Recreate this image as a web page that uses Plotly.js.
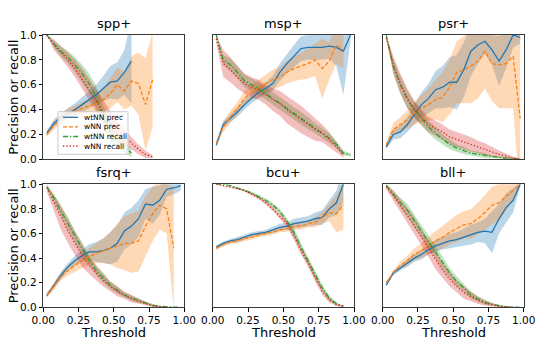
<!DOCTYPE html>
<html><head><meta charset="utf-8">
<script src="https://cdn.plot.ly/plotly-3.0.1.min.js"></script>
<style>html,body{margin:0;padding:0;background:#fff}#chart{width:540px;height:344px}</style>
</head><body><div id="chart"></div>
<script>
// ---- data ----
const thresholds = [0.025,0.075,0.125,0.175,0.225,0.275,0.325,0.375,0.425,0.475,0.525,0.575,0.625,0.675,0.725,0.775,0.825,0.875,0.925,0.975];
const panelNames = ['spp+','msp+','psr+','fsrq+','bcu+','bll+'];
const seriesNames = ['wtNN prec','wNN prec','wtNN recall','wNN recall'];
const xTitle = 'Threshold';
const yTitle = 'Precision or recall';

// spp+
const sppWtPrec = [0.21,0.29,0.34,0.37,0.40,0.44,0.48,0.52,0.57,0.62,0.63,0.70,0.79];
const sppWtPrecSd = [0.02,0.03,0.03,0.04,0.05,0.06,0.07,0.08,0.10,0.13,0.15,0.18,0.34];
const sppWPrec = [0.20,0.27,0.33,0.37,0.39,0.41,0.43,0.45,0.48,0.53,0.60,0.55,0.63,0.61,0.44,0.64];
const sppWPrecSd = [0.02,0.03,0.04,0.04,0.04,0.05,0.06,0.08,0.10,0.12,0.14,0.15,0.20,0.25,0.37,0.38];
const sppWtRec = [1.0,0.93,0.87,0.82,0.76,0.69,0.61,0.50,0.34,0.22,0.15,0.10,0.05];
const sppWtRecSd = [0.0,0.03,0.04,0.05,0.06,0.07,0.08,0.09,0.09,0.08,0.06,0.05,0.03];
const sppWRec = [1.0,0.92,0.86,0.80,0.73,0.65,0.56,0.47,0.38,0.31,0.24,0.18,0.13,0.08,0.04,0.02];
const sppWRecSd = [0.0,0.04,0.05,0.06,0.07,0.08,0.09,0.09,0.09,0.08,0.07,0.06,0.05,0.04,0.03,0.01];

// msp+
const mspWtPrec = [0.115,0.28,0.33,0.38,0.44,0.49,0.54,0.57,0.61,0.70,0.77,0.83,0.89,0.90,0.90,0.90,0.91,0.90,0.87,1.0];
const mspWtPrecSd = [0.02,0.03,0.03,0.04,0.04,0.04,0.05,0.05,0.06,0.07,0.08,0.09,0.10,0.10,0.10,0.10,0.10,0.15,0.35,0.05];
const mspWPrec = [0.13,0.26,0.34,0.41,0.49,0.54,0.57,0.61,0.64,0.66,0.70,0.73,0.75,0.77,0.80,0.73,0.79,0.92,0.88];
const mspWPrecSd = [0.02,0.04,0.05,0.05,0.06,0.06,0.07,0.07,0.08,0.08,0.09,0.10,0.11,0.12,0.13,0.24,0.15,0.15,0.15];
const mspWtRec = [1.0,0.80,0.76,0.70,0.63,0.60,0.57,0.53,0.49,0.45,0.41,0.37,0.33,0.29,0.25,0.21,0.17,0.12,0.05,0.035];
const mspWtRecSd = [0.0,0.04,0.05,0.05,0.05,0.05,0.05,0.05,0.05,0.05,0.05,0.05,0.05,0.05,0.04,0.04,0.04,0.03,0.02,0.01];
const mspWRec = [0.97,0.77,0.72,0.66,0.61,0.58,0.56,0.52,0.48,0.45,0.40,0.36,0.32,0.28,0.24,0.21,0.16,0.10,0.035];
const mspWRecSd = [0.03,0.11,0.10,0.09,0.08,0.08,0.08,0.08,0.09,0.10,0.11,0.11,0.11,0.10,0.09,0.07,0.06,0.04,0.02];

// psr+
const psrWtPrec = [0.10,0.20,0.22,0.28,0.36,0.44,0.49,0.56,0.58,0.62,0.62,0.72,0.87,0.92,0.95,0.88,0.79,0.88,1.0,0.98];
const psrWtPrecSd = [0.02,0.04,0.05,0.06,0.08,0.10,0.12,0.15,0.17,0.20,0.22,0.22,0.20,0.15,0.10,0.12,0.20,0.15,0.10,0.05];
const psrWPrec = [0.115,0.24,0.28,0.32,0.37,0.41,0.44,0.48,0.50,0.58,0.70,0.72,0.75,0.79,0.87,0.77,0.76,0.77,0.83,0.33];
const psrWPrecSd = [0.02,0.05,0.06,0.07,0.09,0.11,0.13,0.16,0.20,0.22,0.25,0.27,0.30,0.30,0.30,0.30,0.35,0.36,0.42,0.65];
const psrWtRec = [1.0,0.75,0.60,0.48,0.40,0.33,0.26,0.21,0.16,0.12,0.09,0.07,0.05,0.04,0.03,0.02,0.015,0.01,0.005,0.002];
const psrWtRecSd = [0.0,0.06,0.07,0.07,0.06,0.06,0.05,0.05,0.04,0.04,0.03,0.03,0.02,0.02,0.02,0.01,0.01,0.01,0.005,0.002];
const psrWRec = [0.98,0.76,0.61,0.49,0.40,0.34,0.28,0.25,0.22,0.18,0.16,0.14,0.12,0.10,0.08,0.06,0.04,0.027,0.01,0.003];
const psrWRecSd = [0.02,0.07,0.08,0.08,0.07,0.06,0.06,0.06,0.06,0.06,0.06,0.06,0.06,0.05,0.05,0.04,0.03,0.02,0.01,0.003];

// fsrq+
const fsrqWtPrec = [0.094,0.18,0.26,0.33,0.38,0.42,0.45,0.45,0.46,0.48,0.52,0.62,0.66,0.72,0.84,0.83,0.87,0.96,0.97,0.99];
const fsrqWtPrecSd = [0.01,0.02,0.03,0.03,0.04,0.05,0.06,0.08,0.10,0.13,0.15,0.15,0.15,0.15,0.12,0.15,0.12,0.06,0.05,0.04];
const fsrqWPrec = [0.10,0.17,0.25,0.30,0.34,0.38,0.41,0.44,0.46,0.48,0.50,0.52,0.52,0.54,0.66,0.76,0.83,0.80,0.48];
const fsrqWPrecSd = [0.02,0.03,0.03,0.04,0.05,0.06,0.07,0.08,0.10,0.13,0.18,0.22,0.24,0.25,0.24,0.22,0.20,0.20,0.50];
const fsrqWtRec = [0.98,0.89,0.78,0.68,0.57,0.48,0.38,0.30,0.24,0.18,0.14,0.10,0.075,0.054,0.035,0.016,0.008,0.003,0.001,0.0];
const fsrqWtRecSd = [0.01,0.03,0.04,0.05,0.05,0.05,0.04,0.04,0.04,0.03,0.03,0.02,0.02,0.02,0.01,0.01,0.005,0.002,0.001,0.0];
const fsrqWRec = [0.97,0.85,0.73,0.62,0.52,0.42,0.34,0.28,0.22,0.17,0.13,0.10,0.07,0.05,0.03,0.013,0.005,0.001];
const fsrqWRecSd = [0.03,0.07,0.10,0.10,0.10,0.09,0.07,0.06,0.05,0.04,0.04,0.03,0.03,0.02,0.015,0.01,0.005,0.001];

// bcu+
const bcuWtPrec = [0.49,0.52,0.54,0.55,0.57,0.59,0.60,0.61,0.63,0.65,0.66,0.68,0.69,0.70,0.72,0.73,0.80,0.85,1.0];
const bcuWtPrecSd = [0.015,0.015,0.015,0.02,0.02,0.02,0.02,0.02,0.025,0.03,0.03,0.04,0.04,0.04,0.05,0.06,0.07,0.10,0.15];
const bcuWPrec = [0.48,0.51,0.53,0.54,0.56,0.57,0.59,0.60,0.61,0.63,0.64,0.66,0.66,0.68,0.69,0.73,0.77,0.76,0.83];
const bcuWPrecSd = [0.015,0.015,0.015,0.02,0.02,0.02,0.02,0.02,0.02,0.02,0.025,0.03,0.03,0.03,0.04,0.05,0.07,0.15,0.20];
const bcuWtRec = [1.0,1.0,0.99,0.97,0.95,0.93,0.90,0.87,0.83,0.78,0.70,0.61,0.49,0.38,0.26,0.16,0.075,0.03,0.008];
const bcuWtRecSd = [0.0,0.002,0.004,0.006,0.008,0.01,0.012,0.015,0.018,0.02,0.025,0.03,0.03,0.03,0.03,0.025,0.02,0.01,0.005];
const bcuWRec = [1.0,0.99,0.98,0.965,0.95,0.92,0.89,0.85,0.80,0.74,0.68,0.58,0.46,0.36,0.24,0.13,0.06,0.02,0.008];
const bcuWRecSd = [0.0,0.002,0.004,0.006,0.008,0.01,0.012,0.015,0.018,0.02,0.025,0.03,0.03,0.03,0.03,0.025,0.02,0.01,0.005];

// bll+
const bllWtPrec = [0.18,0.28,0.32,0.36,0.40,0.43,0.47,0.50,0.52,0.54,0.55,0.57,0.59,0.61,0.62,0.61,0.72,0.81,0.87,1.0];
const bllWtPrecSd = [0.01,0.02,0.02,0.03,0.03,0.04,0.04,0.05,0.05,0.06,0.06,0.07,0.08,0.08,0.10,0.17,0.12,0.12,0.10,0.02];
const bllWPrec = [0.20,0.28,0.34,0.38,0.43,0.46,0.50,0.54,0.57,0.61,0.64,0.67,0.68,0.72,0.77,0.83,0.85,0.90,0.95,1.0];
const bllWPrecSd = [0.01,0.02,0.03,0.04,0.05,0.06,0.07,0.08,0.09,0.10,0.11,0.11,0.12,0.13,0.14,0.15,0.15,0.12,0.08,0.02];
const bllWtRec = [0.99,0.92,0.85,0.79,0.70,0.62,0.53,0.45,0.36,0.28,0.21,0.16,0.10,0.07,0.04,0.024,0.013,0.005,0.002,0.0];
const bllWtRecSd = [0.01,0.03,0.04,0.05,0.05,0.05,0.05,0.05,0.05,0.04,0.04,0.03,0.03,0.02,0.02,0.01,0.008,0.004,0.002,0.0];
const bllWRec = [0.98,0.91,0.83,0.75,0.66,0.57,0.48,0.38,0.30,0.23,0.17,0.12,0.09,0.056,0.035,0.02,0.008,0.003,0.0];
const bllWRecSd = [0.02,0.04,0.05,0.06,0.07,0.07,0.07,0.07,0.06,0.06,0.05,0.05,0.04,0.03,0.02,0.015,0.008,0.003,0.0];

// ---- assembly ----
const panelSeries = [
  [[sppWtPrec,sppWtPrecSd],[sppWPrec,sppWPrecSd],[sppWtRec,sppWtRecSd],[sppWRec,sppWRecSd]],
  [[mspWtPrec,mspWtPrecSd],[mspWPrec,mspWPrecSd],[mspWtRec,mspWtRecSd],[mspWRec,mspWRecSd]],
  [[psrWtPrec,psrWtPrecSd],[psrWPrec,psrWPrecSd],[psrWtRec,psrWtRecSd],[psrWRec,psrWRecSd]],
  [[fsrqWtPrec,fsrqWtPrecSd],[fsrqWPrec,fsrqWPrecSd],[fsrqWtRec,fsrqWtRecSd],[fsrqWRec,fsrqWRecSd]],
  [[bcuWtPrec,bcuWtPrecSd],[bcuWPrec,bcuWPrecSd],[bcuWtRec,bcuWtRecSd],[bcuWRec,bcuWRecSd]],
  [[bllWtPrec,bllWtPrecSd],[bllWPrec,bllWPrecSd],[bllWtRec,bllWtRecSd],[bllWRec,bllWRecSd]]
];
const lineColors = ['#1f77b4','#ff7f0e','#2ca02c','#d62728'];
const fillColors = ['rgba(31,119,180,0.3)','rgba(255,127,14,0.3)','rgba(44,160,44,0.3)','rgba(214,39,40,0.3)'];
const dashes = ['solid','4px,2px','5px,2px,1.3px,2px','1.3px,2px'];

const W = 540, H = 344;
const colPx = [[43.3,184.3],[212.7,354],[382.7,523.7]];
const rowPx = [[35,159.3],[184.3,307.3]];
const FONT = 'DejaVu Sans, sans-serif';

const traces = [];
const layout = {
  width: W, height: H, margin: {l:0,r:0,t:0,b:0},
  paper_bgcolor: '#fff', plot_bgcolor: '#fff', showlegend: false,
  font: {family: FONT, color: '#000', size: 10},
  annotations: [], shapes: []
};

panelSeries.forEach((series, p) => {
  const xa = p === 0 ? 'x' : 'x' + (p+1);
  const ya = p === 0 ? 'y' : 'y' + (p+1);
  // fills first
  series.forEach((s, k) => {
    const [m, sd] = s;
    const xs = thresholds.slice(0, m.length);
    traces.push({x: xs, y: m.map((v,i)=>v - sd[i]), xaxis: xa, yaxis: ya, mode: 'lines',
      line: {width: 0, color: lineColors[k]}, hoverinfo: 'skip', showlegend: false});
    traces.push({x: xs, y: m.map((v,i)=>v + sd[i]), xaxis: xa, yaxis: ya, mode: 'lines',
      line: {width: 0, color: lineColors[k]}, fill: 'tonexty', fillcolor: fillColors[k], hoverinfo: 'skip', showlegend: false});
  });
  series.forEach((s, k) => {
    const [m] = s;
    traces.push({x: thresholds.slice(0, m.length), y: m, xaxis: xa, yaxis: ya, mode: 'lines',
      name: seriesNames[k], line: {width: 1.3, color: lineColors[k], dash: dashes[k]}, showlegend: false});
  });

  const col = p % 3, row = Math.floor(p / 3);
  const xd = [colPx[col][0]/W, colPx[col][1]/W];
  const yd = [(H - rowPx[row][1])/H, (H - rowPx[row][0])/H];
  const common = {range: [0,1], showline: true, mirror: true, linecolor: '#3a3a3a', linewidth: 1,
    showgrid: false, zeroline: false, ticklen: 3.5, tickcolor: '#000', tickwidth: 1,
    tickfont: {family: FONT, size: 10.5, color: '#000'}, fixedrange: true};
  const xKey = p === 0 ? 'xaxis' : 'xaxis' + (p+1);
  const yKey = p === 0 ? 'yaxis' : 'yaxis' + (p+1);
  layout[xKey] = Object.assign({}, common, {domain: xd, anchor: ya,
    tickvals: [0,0.25,0.5,0.75,1], ticktext: ['0.00','0.25','0.50','0.75','1.00'],
    ticks: row === 1 ? 'outside' : '', showticklabels: row === 1});
  layout[yKey] = Object.assign({}, common, {domain: yd, anchor: xa,
    tickvals: [0,0.2,0.4,0.6,0.8,1.0], ticktext: ['0.0','0.2','0.4','0.6','0.8','1.0'],
    ticks: col === 0 ? 'outside' : '', showticklabels: col === 0});
  layout.annotations.push({text: panelNames[p], xref: 'paper', yref: 'paper', showarrow: false,
    x: (xd[0]+xd[1])/2, xanchor: 'center', y: (H - rowPx[row][0] + 2)/H, yanchor: 'bottom',
    font: {family: FONT, size: 13, color: '#000'}});
  if (row === 1) {
    layout.annotations.push({text: xTitle, xref: 'paper', yref: 'paper', showarrow: false,
      x: (xd[0]+xd[1])/2, xanchor: 'center', y: (H - 332)/H, yanchor: 'middle',
      font: {family: FONT, size: 13, color: '#000'}});
  }
  if (col === 0) {
    layout.annotations.push({text: yTitle, xref: 'paper', yref: 'paper', showarrow: false, textangle: -90,
      x: 13.5/W, xanchor: 'center', y: (yd[0]+yd[1])/2, yanchor: 'middle',
      font: {family: FONT, size: 13, color: '#000'}});
  }
});

// legend box drawn in the first panel (paper coords)
const lg = {x0: 58, x1: 128, y0: 111.7, y1: 154.3, rows: [117.3, 126.9, 136.5, 146], lx0: 63, lx1: 78, tx: 81.5};
layout.shapes.push({type: 'rect', xref: 'paper', yref: 'paper', layer: 'above',
  x0: lg.x0/W, x1: lg.x1/W, y0: (H-lg.y1)/H, y1: (H-lg.y0)/H,
  fillcolor: 'rgba(255,255,255,0.8)', line: {color: '#cccccc', width: 1}});
seriesNames.forEach((nm, k) => {
  const yy = (H - lg.rows[k])/H;
  layout.shapes.push({type: 'line', xref: 'paper', yref: 'paper', layer: 'above',
    x0: lg.lx0/W, x1: lg.lx1/W, y0: yy, y1: yy,
    line: {color: lineColors[k], width: 1.3, dash: dashes[k]}});
  layout.annotations.push({text: nm, xref: 'paper', yref: 'paper', showarrow: false,
    x: lg.tx/W, xanchor: 'left', y: yy, yanchor: 'middle',
    font: {family: FONT, size: 7.5, color: '#000'}});
});

Plotly.newPlot('chart', traces, layout, {staticPlot: true, displayModeBar: false});
</script></body></html>
